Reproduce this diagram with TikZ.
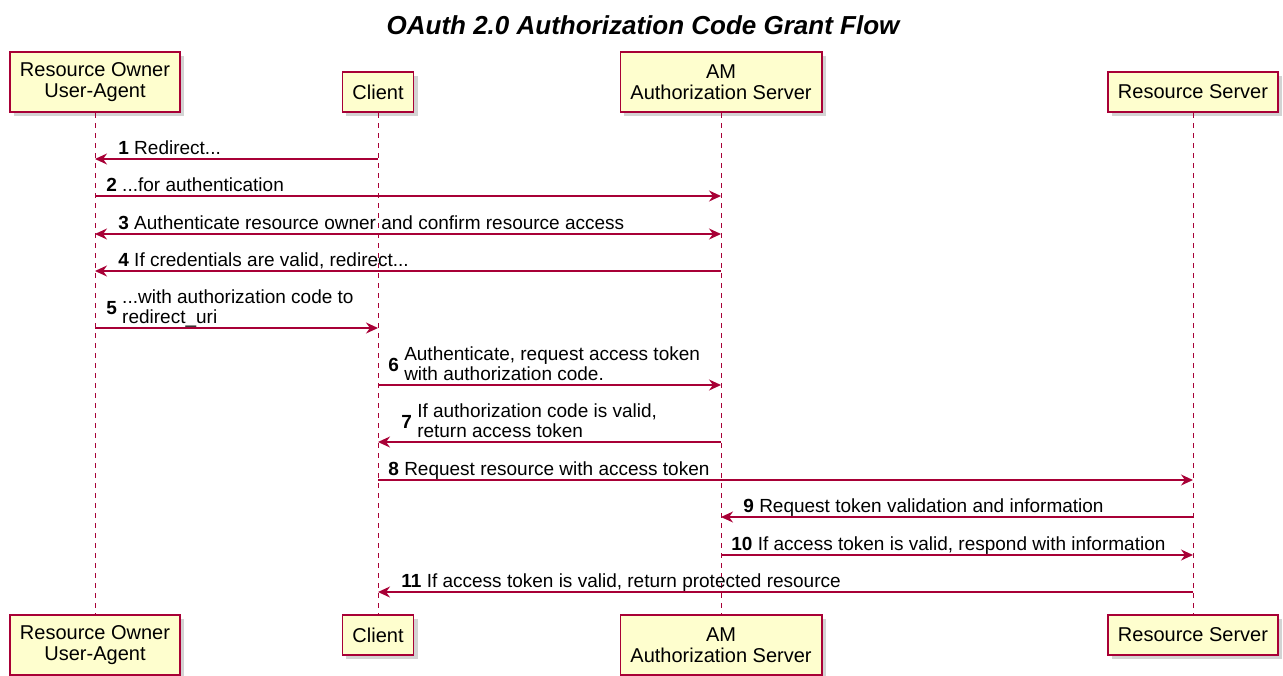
\documentclass[tikz,border=0pt]{standalone}
\usepackage{fontspec}
\setmainfont{Liberation Sans}
\usepackage{tikz}
\usetikzlibrary{arrows.meta,shadows}
\definecolor{umlred}{HTML}{A80036}
\definecolor{umlnote}{HTML}{FEFECE}
\tikzset{%
  actor/.style    = {shape=rectangle, draw=umlred, line width=0.9pt,%
                     fill=umlnote, align=center,%
                     font=\fontsize{10}{10.5}\selectfont,%
                     inner xsep=5pt, inner ysep=0pt,%
                     drop shadow={shadow xshift=2pt, shadow yshift=-2pt, opacity=0.35}},%
  oneline/.style  = {actor, minimum height=20pt},%
  twoline/.style  = {actor, minimum height=30pt},%
  lifeline/.style = {draw=umlred, line width=0.5pt, dash pattern=on 2.5pt off 2.5pt},%
  msg/.style      = {draw=umlred, line width=0.65pt, -{Stealth[length=6pt,width=5.5pt]}},%
  lbl/.style      = {inner sep=0pt, anchor=base west, font=\fontsize{9.5}{10}\selectfont}%
}

\begin{document}
\begin{tikzpicture}[x=0.5pt, y=-0.5pt]
  \useasboundingbox (0,0) rectangle (1283,675);
  \node[font=\fontsize{13}{13}\selectfont\bfseries\itshape] (title) at (643,25)
    {OAuth 2.0 Authorization Code Grant Flow};

  % participants, top row
  \node[twoline, anchor=south] (ro) at (95,113) {Resource Owner\\User-Agent};
  \node[oneline, anchor=south] (cl) at (378,113) {Client};
  \node[twoline, anchor=south] (am) at (721,113) {AM\\Authorization Server};
  \node[oneline, anchor=south] (rs) at (1193,113) {Resource Server};
  % participants, bottom row
  \node[twoline, anchor=north] (ro2) at (95,614) {Resource Owner\\User-Agent};
  \node[oneline, anchor=north] (cl2) at (378,614) {Client};
  \node[twoline, anchor=north] (am2) at (721,614) {AM\\Authorization Server};
  \node[oneline, anchor=north] (rs2) at (1193,614) {Resource Server};

  \foreach \p in {ro,cl,am,rs}
    \draw[lifeline] (\p.south) -- (\p2.north);

  % message rows
  \foreach \i/\y in {1/159,2/196,3/234,4/271,5/328,6/385,7/442,8/480,9/517,10/555,11/592}
    \coordinate (m\i) at (0,\y);

  \draw[msg] (cl |- m1) -- (ro |- m1);
  \node[lbl] (t1) at ([xshift=11.5pt, yshift=2.5pt] ro |- m1) {\textbf{1} Redirect...};

  \draw[msg] (ro |- m2) -- (am |- m2);
  \node[lbl] (t2) at ([xshift=5.5pt, yshift=2.5pt] ro |- m2) {\textbf{2} ...for authentication};

  \draw[msg, {Stealth[length=6pt,width=5.5pt]}-{Stealth[length=6pt,width=5.5pt]}] (ro |- m3) -- (am |- m3);
  \node[lbl] (t3) at ([xshift=11.5pt, yshift=2.5pt] ro |- m3)
    {\textbf{3} Authenticate resource owner and confirm resource access};

  \draw[msg] (am |- m4) -- (ro |- m4);
  \node[lbl] (t4) at ([xshift=11.5pt, yshift=2.5pt] ro |- m4)
    {\textbf{4} If credentials are valid, redirect...};

  \draw[msg] (ro |- m5) -- (cl |- m5);
  \node[lbl] (t5) at ([xshift=5.5pt, yshift=7pt] ro |- m5)
    {\textbf{5} \begin{tabular}[c]{@{}l@{}}...with authorization code to\\redirect\_uri\end{tabular}};

  \draw[msg] (cl |- m6) -- (am |- m6);
  \node[lbl] (t6) at ([xshift=5pt, yshift=7pt] cl |- m6)
    {\textbf{6} \begin{tabular}[c]{@{}l@{}}Authenticate, request access token\\with authorization code.\end{tabular}};

  \draw[msg] (am |- m7) -- (cl |- m7);
  \node[lbl] (t7) at ([xshift=11.5pt, yshift=7pt] cl |- m7)
    {\textbf{7} \begin{tabular}[c]{@{}l@{}}If authorization code is valid,\\return access token\end{tabular}};

  \draw[msg] (cl |- m8) -- (rs |- m8);
  \node[lbl] (t8) at ([xshift=5pt, yshift=2.5pt] cl |- m8)
    {\textbf{8} Request resource with access token};

  \draw[msg] (rs |- m9) -- (am |- m9);
  \node[lbl] (t9) at ([xshift=11pt, yshift=2.5pt] am |- m9)
    {\textbf{9} Request token validation and information};

  \draw[msg] (am |- m10) -- (rs |- m10);
  \node[lbl] (t10) at ([xshift=5pt, yshift=2.5pt] am |- m10)
    {\textbf{10} If access token is valid, respond with information};

  \draw[msg] (rs |- m11) -- (cl |- m11);
  \node[lbl] (t11) at ([xshift=11.5pt, yshift=2.5pt] cl |- m11)
    {\textbf{11} If access token is valid, return protected resource};
\end{tikzpicture}
\end{document}
